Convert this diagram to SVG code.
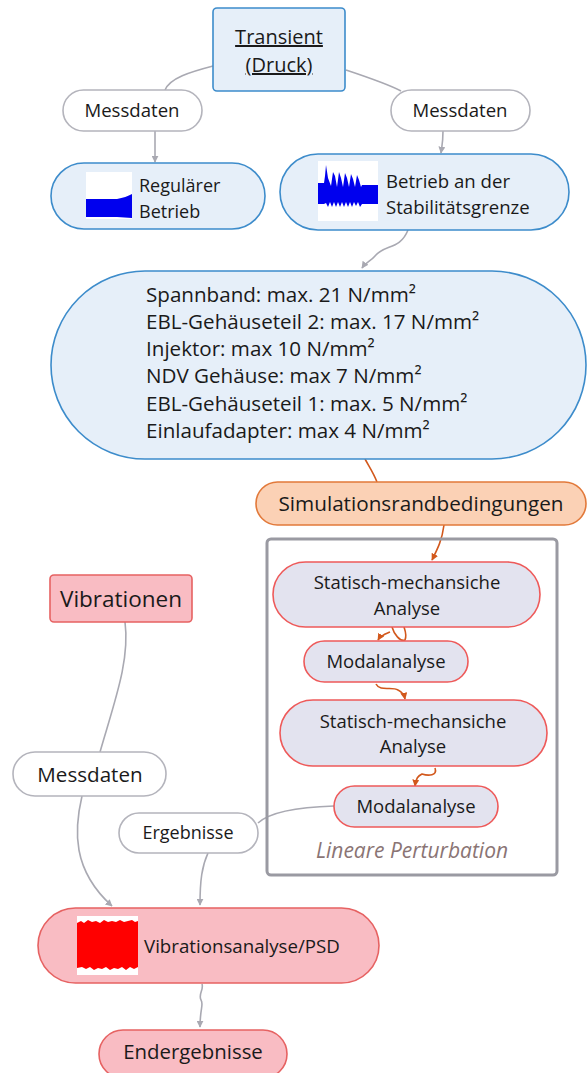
<svg xmlns="http://www.w3.org/2000/svg" width="587" height="1073" viewBox="0 0 587 1073">
<style>
text{font-family:"Open Sans","Noto Sans","Liberation Sans",sans-serif;fill:#1a1a1a}
.blue{fill:#e6eff9;stroke:#3d8ccb;stroke-width:1.6}
.lbl{fill:#ffffff;stroke:#b4b4bc;stroke-width:1.6}
.sim{fill:#fbd1b5;stroke:#e2793a;stroke-width:1.6}
.lav{fill:#e3e3ef;stroke:#ee5a5a;stroke-width:1.6}
.pink{fill:#f9bcc3;stroke:#e66262;stroke-width:1.6}
.gc{fill:none;stroke:#a9a9b2;stroke-width:1.6}
.oc{fill:none;stroke:#d2581c;stroke-width:1.6}
</style>
<defs>
<marker id="ag" viewBox="0 0 10 10" refX="9" refY="5" markerWidth="7" markerHeight="7" orient="auto" markerUnits="userSpaceOnUse"><path d="M0,0 L10,5 L0,10 z" fill="#a9a9b2"/></marker>
<marker id="ao" viewBox="0 0 10 10" refX="9" refY="5" markerWidth="7" markerHeight="7" orient="auto" markerUnits="userSpaceOnUse"><path d="M0,0 L10,5 L0,10 z" fill="#d2581c"/></marker>
</defs>

<g id="connectors">
<path class="gc" d="M213,66 C190,72 170,78 165,90"/>
<path class="gc" d="M346,70 C370,78 388,84 401,91"/>
<path class="gc" d="M155,131 L155,162" marker-end="url(#ag)"/>
<path class="gc" d="M443,131 C443,142 442,146 441,153" marker-end="url(#ag)"/>
<path class="gc" d="M408,230 C400,250 385,244 375,256 C370,262 366,262 362,268" marker-end="url(#ag)"/>
<path class="oc" d="M365,459 C370,468 374,474 377,482"/>
<path class="oc" d="M444,525 C442,540 438,548 432,560" marker-end="url(#ao)"/>
<path class="oc" d="M392,627 C394,634 400,642 405,640 C407,635 405,630 404,627 M390,632 C385,634 381,635 378,640" marker-end="url(#ao)"/>
<path class="oc" d="M376,684 C380,692 392,686 398,690 C402,692 404,694 405,699" marker-end="url(#ao)"/>
<path class="oc" d="M435,768 C438,776 428,776 422,774 C418,776 416,778 415,786" marker-end="url(#ao)"/>
<path class="gc" d="M334,806 C300,807 270,812 258,823"/>
<path class="gc" d="M208,853 C202,866 200,880 200,905" marker-end="url(#ag)"/>
<path class="gc" d="M125,622 C130,660 115,700 100,752"/>
<path class="gc" d="M82,796 C74,830 72,870 112,906" marker-end="url(#ag)"/>
<path class="gc" d="M202,984 C204,990 198,994 201,1000 C204,1004 200,1008 200,1027" marker-end="url(#ag)"/>
</g>

<g id="transient">
<rect class="blue" x="213" y="8" width="132" height="83" rx="4"/>
<text x="279" y="44" font-size="20" text-anchor="middle" text-decoration="underline">Transient</text>
<text x="279" y="72" font-size="20" text-anchor="middle" text-decoration="underline">(Druck)</text>
</g>

<g id="messdaten1">
<rect class="lbl" x="63" y="90" width="139" height="41" rx="20.5"/>
<text x="132" y="117" font-size="18.6" text-anchor="middle">Messdaten</text>
</g>

<g id="messdaten2">
<rect class="lbl" x="391" y="90" width="139" height="41" rx="20.5"/>
<text x="460" y="117" font-size="18.6" text-anchor="middle">Messdaten</text>
</g>

<g id="regulaer">
<rect class="blue" x="51" y="163" width="214" height="66" rx="33"/>
<rect x="86" y="172" width="46" height="47" fill="#ffffff"/>
<path d="M86,199 L117,199 C123,198 128,196 132,194 L132,218 L117,217 L86,217 z" fill="#0000ee"/>
<text x="139" y="192" font-size="18">Regulärer</text>
<text x="139" y="218" font-size="18">Betrieb</text>
</g>

<g id="stabilitaet">
<rect class="blue" x="280" y="154" width="289" height="76" rx="38"/>
<rect x="318" y="161" width="60" height="60" fill="#ffffff"/>
<path d="M318,183 L324,183 L325,176 L326,165 L328,178 L331,186 L333,172 L335,176 L337,187 L339,172 L341,178 L343,187 L345,173 L347,178 L349,187 L351,174 L353,179 L355,187 L357,175 L359,180 L361,187 L362,185 L378,185 L378,204 L362,204 L360,207 L358,202 L356,206 L354,202 L352,207 L350,202 L348,207 L346,202 L344,207 L342,202 L340,207 L338,202 L336,207 L334,202 L332,207 L330,202 L328,207 L326,203 L324,204 L318,204 z" fill="#0000ee"/>
<text x="386" y="188" font-size="18.6">Betrieb an der</text>
<text x="386" y="214" font-size="18.6">Stabilitätsgrenze</text>
</g>

<g id="werte">
<rect class="blue" x="51" y="271" width="535" height="188" rx="94"/>
<text x="146" y="302" font-size="20.6">Spannband: max. 21 N/mm²</text>
<text x="146" y="329" font-size="20.6">EBL-Gehäuseteil 2: max. 17 N/mm²</text>
<text x="146" y="356" font-size="20.6">Injektor: max 10 N/mm²</text>
<text x="146" y="383" font-size="20.6">NDV Gehäuse: max 7 N/mm²</text>
<text x="146" y="411" font-size="20.6">EBL-Gehäuseteil 1: max. 5 N/mm²</text>
<text x="146" y="438" font-size="20.6">Einlaufadapter: max 4 N/mm²</text>
</g>

<g id="simulation">
<rect class="sim" x="256" y="482" width="330" height="43" rx="21.5"/>
<text x="421" y="511" font-size="20.7" text-anchor="middle">Simulationsrandbedingungen</text>
</g>

<g id="perturbation">
<rect x="267" y="539" width="290" height="336" rx="4" fill="none" stroke="#9a9aa2" stroke-width="3"/>
<text x="412" y="858" font-size="21" font-style="italic" text-anchor="middle" style="fill:#8a7474">Lineare Perturbation</text>
</g>

<g id="statisch1">
<rect class="lav" x="273" y="562" width="267" height="65" rx="32.5"/>
<text x="407" y="589" font-size="18.5" text-anchor="middle">Statisch-mechansiche</text>
<text x="407" y="615" font-size="18.5" text-anchor="middle">Analyse</text>
</g>

<g id="modal1">
<rect class="lav" x="304" y="641" width="164" height="41" rx="20.5"/>
<text x="386" y="668" font-size="18.5" text-anchor="middle">Modalanalyse</text>
</g>

<g id="statisch2">
<rect class="lav" x="280" y="700" width="267" height="66" rx="33"/>
<text x="413" y="728" font-size="18.5" text-anchor="middle">Statisch-mechansiche</text>
<text x="413" y="753" font-size="18.5" text-anchor="middle">Analyse</text>
</g>

<g id="modal2">
<rect class="lav" x="334" y="786" width="164" height="41" rx="20.5"/>
<text x="416" y="813" font-size="18.5" text-anchor="middle">Modalanalyse</text>
</g>

<g id="vibrationen">
<rect class="pink" x="50" y="575" width="142" height="47" rx="4"/>
<text x="121" y="607" font-size="22.5" text-anchor="middle">Vibrationen</text>
</g>

<g id="messdaten3">
<rect class="lbl" x="13" y="752" width="153" height="44" rx="22"/>
<text x="90" y="782" font-size="20.6" text-anchor="middle">Messdaten</text>
</g>

<g id="ergebnisse">
<rect class="lbl" x="119" y="813" width="139" height="40" rx="20"/>
<text x="188" y="839" font-size="18" text-anchor="middle">Ergebnisse</text>
</g>

<g id="vibrationsanalyse">
<rect class="pink" x="38" y="908" width="341" height="75" rx="37.5"/>
<rect x="77" y="916" width="61" height="59" fill="#ffffff"/>
<path d="M77,923 L81,921 L84,923 L88,920 L92,922 L96,921 L100,923 L104,920 L108,922 L112,921 L116,922 L120,920 L124,922 L128,921 L132,920 L135,922 L138,921 L138,967 L134,969 L130,967 L126,970 L122,967 L118,969 L114,968 L110,970 L106,967 L102,969 L98,968 L94,970 L90,967 L86,969 L82,967 L77,968 z" fill="#ff0000"/>
<text x="144" y="953" font-size="18.7">Vibrationsanalyse/PSD</text>
</g>

<g id="endergebnisse">
<rect class="pink" x="99" y="1030" width="188" height="48" rx="24"/>
<text x="193" y="1059" font-size="20.4" text-anchor="middle">Endergebnisse</text>
</g>
</svg>
